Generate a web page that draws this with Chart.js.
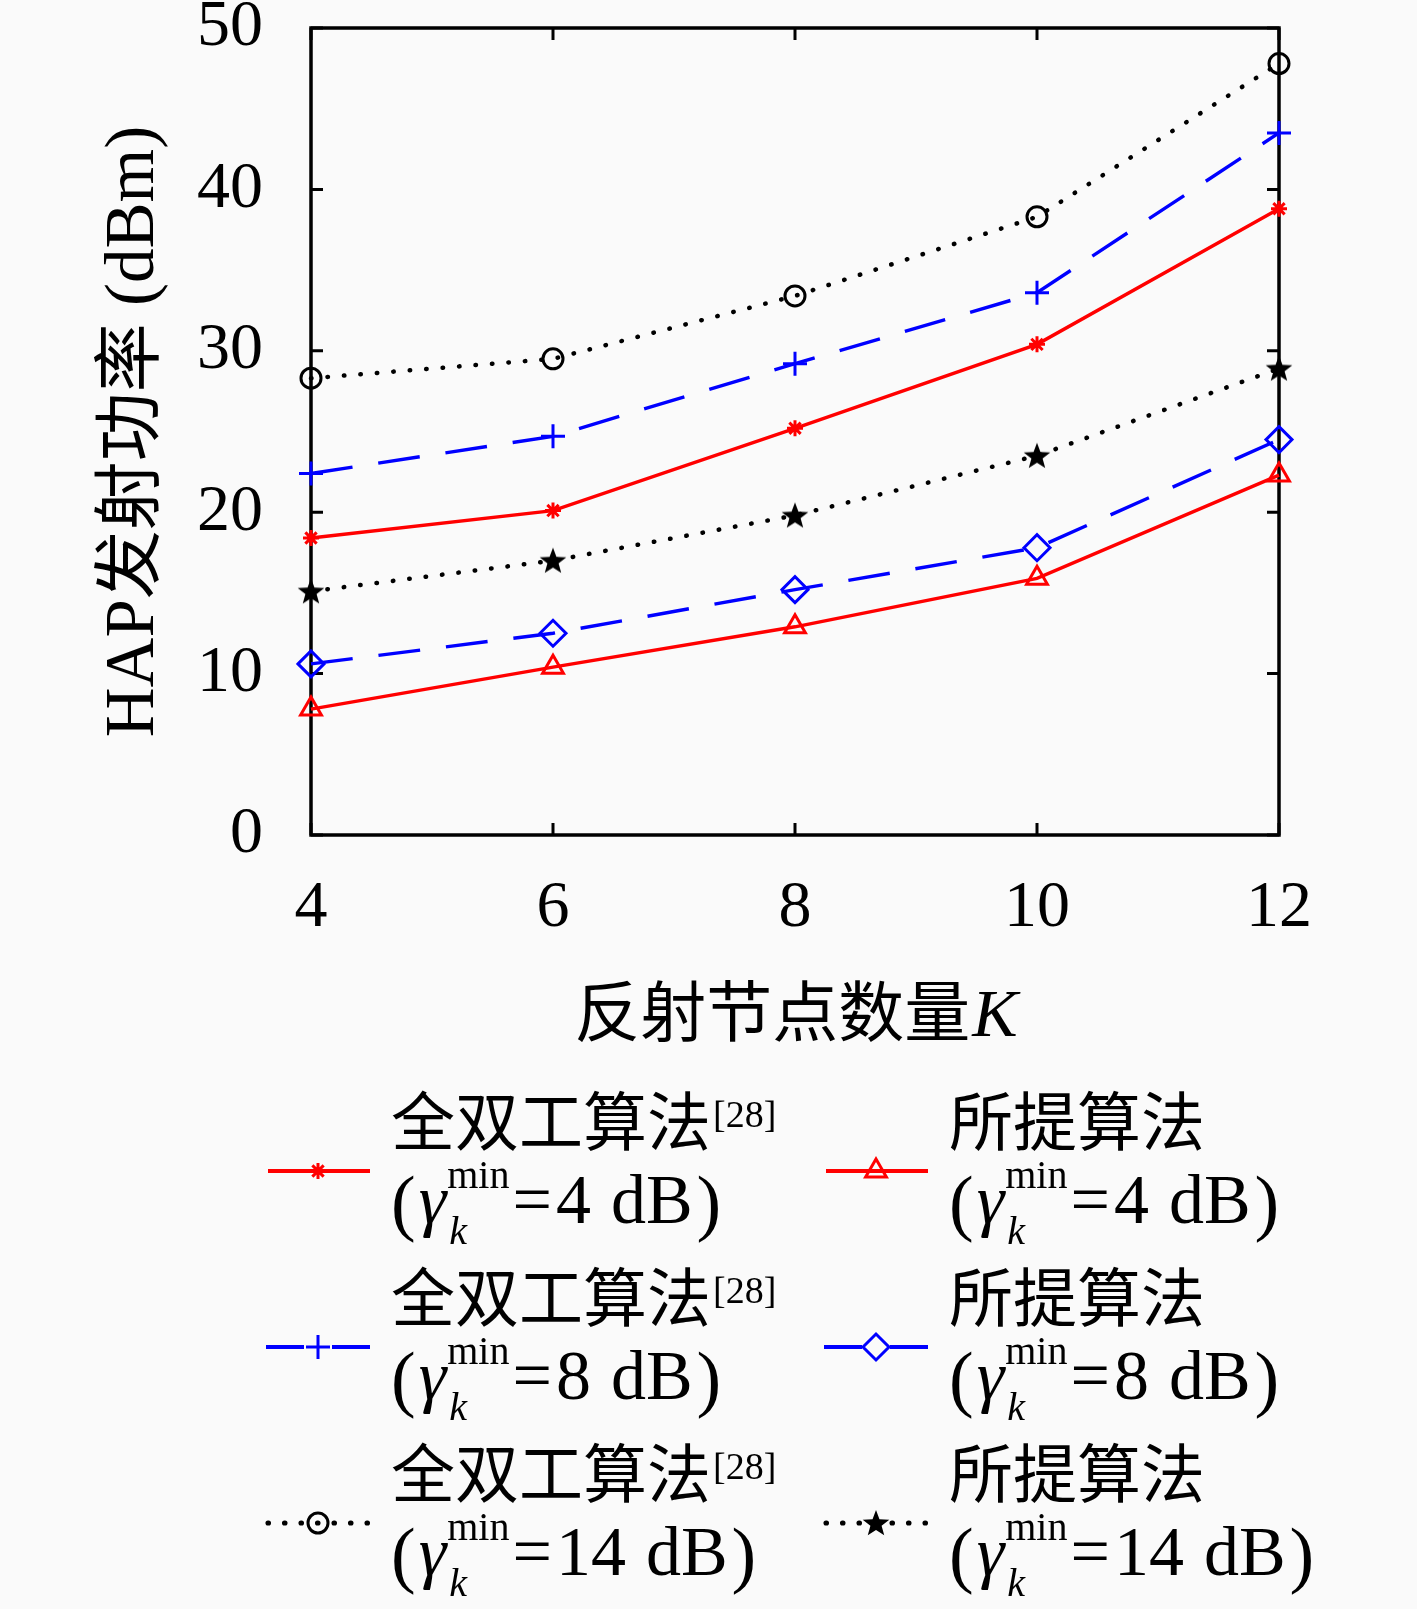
<!DOCTYPE html>
<html>
<head>
<meta charset="utf-8">
<script src="https://cdn.jsdelivr.net/npm/chart.js@4.4.0/dist/chart.umd.min.js"></script>
<style>
html, body { margin: 0; padding: 0; background: #fafafa; }
#wrap { width: 1417px; height: 1609px; }
</style>
</head>
<body>
<div id="wrap"><canvas id="c" width="1417" height="1609"></canvas></div>
<script>
// x categories: number of reflecting nodes K
const nodeCounts = ['4', '6', '8', '10', '12'];
const yTicks = [0, 10, 20, 30, 40, 50];

// HAP transmit power (dBm)
const fd4 = [18.4, 20.1, 25.2, 30.4, 38.8];
const prop4 = [7.8, 10.4, 12.9, 15.9, 22.3];
const fd8 = [22.4, 24.7, 29.2, 33.6, 43.5];
const prop8 = [10.6, 12.5, 15.2, 17.8, 24.5];
const fd14 = [28.3, 29.5, 33.4, 38.3, 47.8];
const prop14 = [15.1, 17.0, 19.8, 23.5, 28.9];

const gammaValues = ['4', '4', '8', '8', '14', '14'];
const algoNames = ['全双工算法', '所提算法', '全双工算法', '所提算法', '全双工算法', '所提算法'];

const SERIF = '"Liberation Serif", "DejaVu Serif", serif';
const CJK = '"Noto Sans CJK SC", "Noto Sans", sans-serif';

// filled five point star marker
function makeStar(r, color) {
    const c = document.createElement('canvas');
    c.width = c.height = Math.ceil(r * 2 + 4);
    const g = c.getContext('2d');
    const cx = c.width / 2, cy = c.height / 2 + 1;
    g.beginPath();
    for (let i = 0; i < 10; i++) {
        const rr = i % 2 === 0 ? r : r * 0.42;
        const a = -Math.PI / 2 + i * Math.PI / 5;
        g.lineTo(cx + rr * Math.cos(a), cy + rr * Math.sin(a));
    }
    g.closePath();
    g.fillStyle = color;
    g.fill();
    return c;
}
const starImg = makeStar(14, '#000');

const RED = '#ff0000', BLUE = '#0000ff', BLACK = '#000000';
const DASH = [42, 26];
const DOT = [0.5, 16];

const series = [
    { data: fd4, color: RED, dash: [], cap: 'butt', width: 3.4, point: 'star', radius: 8, pw: 3 },
    { data: prop4, color: RED, dash: [], cap: 'butt', width: 3.4, point: 'triangle', radius: 12, pw: 3 },
    { data: fd8, color: BLUE, dash: DASH, cap: 'butt', width: 3.4, point: 'cross', radius: 12, pw: 3 },
    { data: prop8, color: BLUE, dash: DASH, cap: 'butt', width: 3.4, point: 'rectRot', radius: 13, pw: 3 },
    { data: fd14, color: BLACK, dash: DOT, cap: 'round', width: 4.5, point: 'circle', radius: 10, pw: 3 },
    { data: prop14, color: BLACK, dash: DOT, cap: 'round', width: 4.5, point: starImg, radius: 14, pw: 1 }
];

const datasets = series.map(s => ({
    data: s.data,
    borderColor: s.color,
    borderWidth: s.width,
    borderDash: s.dash,
    borderCapStyle: s.cap,
    fill: false,
    tension: 0,
    pointStyle: s.point,
    pointRadius: s.radius,
    pointBorderWidth: s.pw,
    pointBorderColor: s.color,
    pointBackgroundColor: 'rgba(0,0,0,0)',
    clip: false
}));

// box round the plot with inward ticks on all four sides
const framePlugin = {
    id: 'frame',
    beforeDatasetsDraw(chart) {
        const { ctx, chartArea: a, scales: { x, y } } = chart;
        ctx.save();
        ctx.strokeStyle = '#000';
        ctx.lineWidth = 3.5;
        ctx.strokeRect(a.left, a.top, a.right - a.left, a.bottom - a.top);
        ctx.lineWidth = 3;
        ctx.beginPath();
        yTicks.forEach(v => {
            const py = y.getPixelForValue(v);
            ctx.moveTo(a.left, py); ctx.lineTo(a.left + 12, py);
            ctx.moveTo(a.right, py); ctx.lineTo(a.right - 12, py);
        });
        nodeCounts.forEach((c, i) => {
            const px = x.getPixelForValue(i);
            ctx.moveTo(px, a.bottom); ctx.lineTo(px, a.bottom - 12);
            ctx.moveTo(px, a.top); ctx.lineTo(px, a.top + 12);
        });
        ctx.stroke();
        ctx.restore();
    }
};

function txt(ctx, s, x, y, font) {
    ctx.font = font;
    ctx.fillText(s, x, y);
    return ctx.measureText(s).width;
}

// x axis title and the two-column legend under the plot
const textPlugin = {
    id: 'texts',
    afterDraw(chart) {
        const { ctx, chartArea: a } = chart;
        ctx.save();
        ctx.fillStyle = '#000';
        ctx.textBaseline = 'alphabetic';
        ctx.textAlign = 'left';

        // x title: 反射节点数量K
        ctx.font = '66px ' + CJK;
        const w1 = ctx.measureText('反射节点数量').width;
        ctx.font = 'italic 68px ' + SERIF;
        const w2 = ctx.measureText('K').width;
        let tx = (a.left + a.right) / 2 - (w1 + w2) / 2;
        tx += txt(ctx, '反射节点数量', tx, 1036, '66px ' + CJK);
        txt(ctx, 'K', tx + 2, 1036, 'italic 68px ' + SERIF);

        const sampleX = [266, 824];
        const textX = [391, 949];
        const rowY = [1120, 1296, 1472];

        series.forEach((s, i) => {
            const col = i % 2, row = Math.floor(i / 2);
            const sy = rowY[row] + 51;
            const sx = sampleX[col];

            ctx.save();
            ctx.strokeStyle = s.color;
            ctx.lineWidth = s.width + 0.6;
            ctx.lineCap = s.cap;
            ctx.beginPath();
            if (s.dash === DASH) {
                ctx.moveTo(sx, sy); ctx.lineTo(sx + 38, sy);
                ctx.moveTo(sx + 66, sy); ctx.lineTo(sx + 104, sy);
            } else {
                ctx.setLineDash(s.dash);
                ctx.moveTo(sx + 2, sy); ctx.lineTo(sx + 104, sy);
            }
            ctx.stroke();
            ctx.setLineDash([]);
            ctx.fillStyle = 'rgba(0,0,0,0)';
            ctx.strokeStyle = s.color;
            ctx.lineWidth = s.pw;
            Chart.helpers.drawPoint(ctx, {
                pointStyle: s.point, radius: s.radius, borderWidth: s.pw, rotation: 0
            }, sx + 52, sy);
            ctx.restore();

            // first line: algorithm name
            let x = textX[col];
            const base1 = rowY[row] + 25;
            x += txt(ctx, algoNames[i], x, base1, '64px ' + CJK);
            if (col === 0) txt(ctx, '[28]', x + 2, base1 - 18, '38px ' + SERIF);

            // second line: (γ_k^min=N dB)
            const base2 = rowY[row] + 103;
            x = textX[col];
            x += txt(ctx, '(', x, base2 + 4, '74px ' + SERIF) + 3;
            x += txt(ctx, 'γ', x, base2, 'italic 70px ' + SERIF) + 1;
            const wm = txt(ctx, 'min', x, base2 - 35, '40px ' + SERIF);
            txt(ctx, 'k', x + 2, base2 + 21, 'italic 40px ' + SERIF);
            x += wm + 3;
            x += txt(ctx, '=', x, base2, '70px ' + SERIF) + 4;
            x += txt(ctx, gammaValues[i], x, base2, '70px ' + SERIF) + 20;
            x += txt(ctx, 'dB', x, base2, '70px ' + SERIF) + 4;
            txt(ctx, ')', x, base2 + 4, '74px ' + SERIF);
        });
        ctx.restore();
    }
};

new Chart(document.getElementById('c'), {
    type: 'line',
    data: { labels: nodeCounts, datasets: datasets },
    options: {
        responsive: false,
        animation: false,
        events: [],
        layout: { padding: { left: 0, top: 28, right: 138, bottom: 574 } },
        plugins: { legend: { display: false }, tooltip: { enabled: false } },
        scales: {
            x: {
                type: 'category',
                offset: false,
                grid: { display: false, drawTicks: false },
                border: { display: false },
                ticks: {
                    color: '#000',
                    padding: 34,
                    maxRotation: 0,
                    autoSkip: false,
                    font: { family: SERIF, size: 66 }
                },
                afterFit(s) {
                    s.height = 200;
                    s.paddingLeft = 0; s.paddingRight = 0;
                }
            },
            y: {
                min: 0,
                max: 50,
                grid: { display: false, drawTicks: false },
                border: { display: false },
                afterBuildTicks(s) { s.ticks = yTicks.map(v => ({ value: v })); },
                ticks: {
                    color: '#000',
                    padding: 48,
                    font: { family: SERIF, size: 66 }
                },
                title: {
                    display: true,
                    text: 'HAP发射功率 (dBm)',
                    color: '#000',
                    padding: { top: 93, bottom: 0 },
                    font: { family: '"Liberation Serif", "Noto Sans CJK SC", serif', size: 69 }
                },
                afterFit(s) {
                    s.width = 311;
                    s.paddingTop = 0; s.paddingBottom = 0;
                }
            }
        }
    },
    plugins: [framePlugin, textPlugin]
});
</script>
</body>
</html>
